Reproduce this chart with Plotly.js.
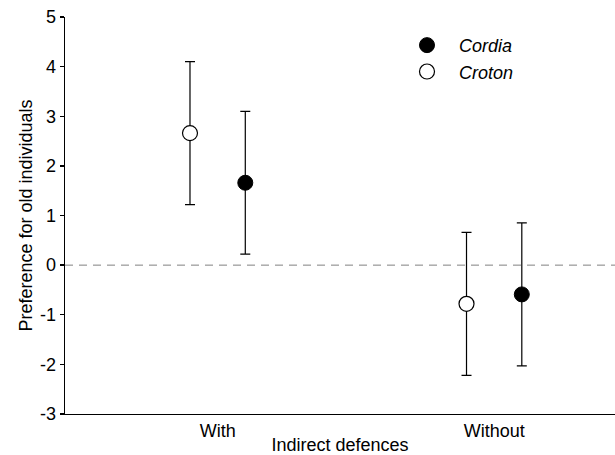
<!DOCTYPE html>
<html>
<head>
<meta charset="utf-8">
<script src="https://cdn.plot.ly/plotly-3.0.1.min.js"></script>
<style>html,body{margin:0;padding:0;background:#fff;}#chart{width:615px;height:455px;}</style>
</head>
<body>
<div id="chart"></div>
<script>
const categories = ["With", "Without"];
const categoryPos = [1, 2];
const cordiaMean = [1.66, -0.59];
const cordiaErr = [1.44, 1.44];
const crotonMean = [2.66, -0.78];
const crotonErr = [1.44, 1.44];
const yTicks = [-3, -2, -1, 0, 1, 2, 3, 4, 5];
const yTickText = ["-3", "-2", "-1", "0", "1", "2", "3", "4", "5"];
const offset = 0.1;

const font = "Arial, 'Liberation Sans', sans-serif";

const cordia = {
  type: "scatter", mode: "markers", name: "<i>Cordia</i>",
  x: categoryPos.map(v => v + offset), y: cordiaMean,
  error_y: {type: "data", array: cordiaErr, visible: true, color: "#000", thickness: 1.2, width: 5},
  marker: {symbol: "circle", size: 15, color: "#000", line: {color: "#000", width: 1}}
};
const croton = {
  type: "scatter", mode: "markers", name: "<i>Croton</i>",
  x: categoryPos.map(v => v - offset), y: crotonMean,
  error_y: {type: "data", array: crotonErr, visible: true, color: "#000", thickness: 1.2, width: 5},
  marker: {symbol: "circle", size: 15, color: "#fff", line: {color: "#000", width: 1.2}}
};

const layout = {
  width: 615, height: 455,
  margin: {l: 65, r: 0, t: 17, b: 41},
  paper_bgcolor: "#fff", plot_bgcolor: "#fff",
  font: {family: font, size: 18, color: "#000"},
  showlegend: true,
  legend: {x: 0.6, y: 0.975, xanchor: "left", yanchor: "top", bgcolor: "rgba(0,0,0,0)",
           font: {family: font, size: 18}, itemwidth: 54, tracegroupgap: 0, traceorder: "normal"},
  xaxis: {
    range: [0.448, 2.437], tickmode: "array", tickvals: categoryPos, ticktext: categories,
    showgrid: false, zeroline: false, showline: true, linecolor: "#000", linewidth: 1.3,
    ticks: "", tickfont: {size: 18}, automargin: false,
    title: {text: "Indirect defences", font: {size: 18}, standoff: 10}
  },
  yaxis: {
    range: [-3, 5], tickmode: "array", tickvals: yTicks, ticktext: yTickText,
    showgrid: false, zeroline: false, showline: true, linecolor: "#000", linewidth: 1.3,
    ticks: "outside", ticklen: 4, tickwidth: 1.3, tickcolor: "#000", tickfont: {size: 18}, automargin: false,
    title: {text: "Preference for old individuals", font: {size: 18}, standoff: 2}
  },
  shapes: [{type: "line", xref: "paper", x0: 0, x1: 1, yref: "y", y0: 0, y1: 0,
            line: {color: "#808080", width: 1, dash: "8px,6px"}}]
};

Plotly.newPlot("chart", [cordia, croton], layout, {displayModeBar: false, staticPlot: true});
</script>
</body>
</html>
